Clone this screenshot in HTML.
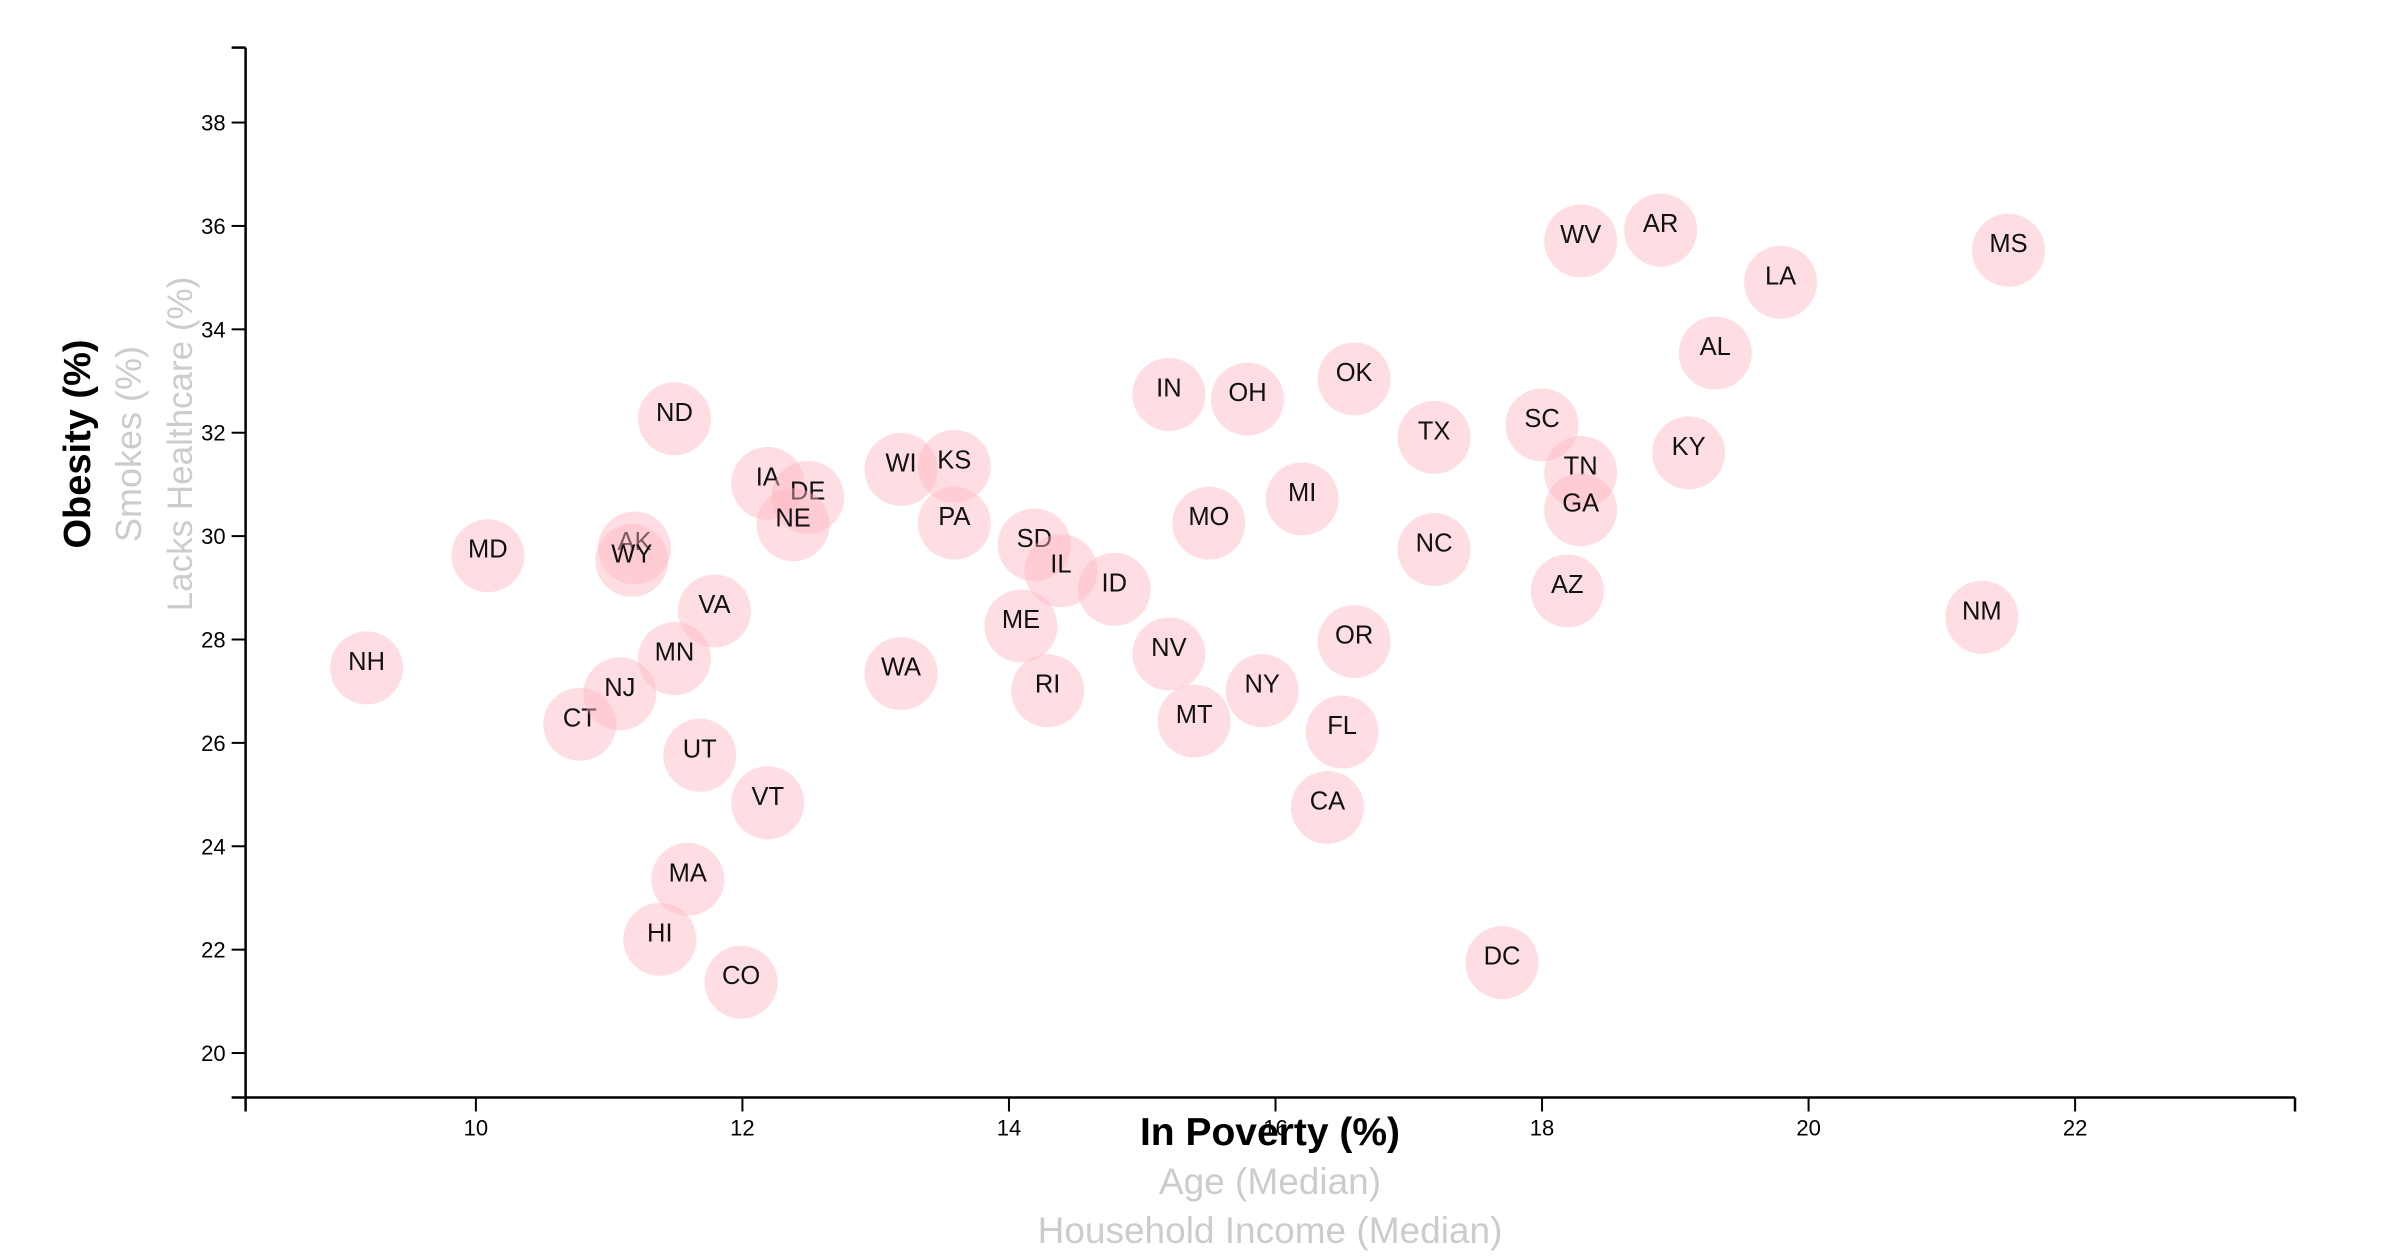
<!DOCTYPE html>
<html><head><meta charset="utf-8"><style>
html,body{margin:0;padding:0;background:#fff;}
svg{display:block;font-family:"Liberation Sans",sans-serif;}
</style></head><body>
<svg id="chart" width="2407" height="1257" viewBox="0 0 2407 1257">
<g id="plot"></g>
<g id="xaxis"></g>
<g id="yaxis"></g>
<text transform="translate(90,444) rotate(-90)" text-anchor="middle" font-size="38" font-weight="bold" fill="#000">Obesity (%)</text>
<text transform="translate(141,444) rotate(-90)" text-anchor="middle" font-size="36" fill="#ccc">Smokes (%)</text>
<text transform="translate(192,444) rotate(-90)" text-anchor="middle" font-size="35" fill="#ccc">Lacks Healthcare (%)</text>
<text x="1270" y="1145" text-anchor="middle" font-size="39" font-weight="bold" fill="#000">In Poverty (%)</text>
<text x="1270" y="1194" text-anchor="middle" font-size="37" fill="#ccc">Age (Median)</text>
<text x="1270" y="1243" text-anchor="middle" font-size="37" fill="#ccc">Household Income (Median)</text>
</svg>
<script>
const states=["NH","MD","AK","WY","CT","NJ","MN","VA","UT","VT","MA","HI","CO","ND","IA","DE","NE","WI","KS","PA","WA","SD","IL","ME","RI","ID","IN","OH","MO","NV","MT","NY","MI","OK","OR","FL","CA","TX","NC","SC","TN","GA","AZ","WV","AR","LA","AL","KY","MS","NM","DC"];
const poverty=[9.18,10.09,11.19,11.17,10.78,11.08,11.49,11.79,11.68,12.19,11.59,11.38,11.99,11.49,12.19,12.49,12.38,13.19,13.59,13.59,13.19,14.19,14.39,14.09,14.29,14.79,15.2,15.79,15.5,15.2,15.39,15.9,16.2,16.59,16.59,16.5,16.39,17.19,17.19,18.0,18.29,18.29,18.19,18.29,18.89,19.79,19.3,19.1,21.5,21.3,17.7];
const obesity=[27.45,29.62,29.77,29.53,26.36,26.95,27.63,28.55,25.76,24.84,23.36,22.2,21.37,32.27,31.02,30.75,30.22,31.29,31.35,30.25,27.34,29.83,29.33,28.26,27.01,28.97,32.74,32.65,30.25,27.72,26.42,27.01,30.72,33.04,27.96,26.21,24.75,31.91,29.74,32.15,31.23,30.51,28.94,35.71,35.92,34.91,33.54,31.61,35.53,28.43,21.75];
const xTicks=[10,12,14,16,18,20,22];
const yTicks=[20,22,24,26,28,30,32,34,36,38];
const X0=245.6,X1=2295,Y0=1097.5,Y1=47.6;
const xMin=8.272,xMax=23.65,yMin=19.14,yMax=39.45;
const xs=v=>X0+(v-xMin)/(xMax-xMin)*(X1-X0);
const ys=v=>Y0-(v-yMin)/(yMax-yMin)*(Y0-Y1);
const NS="http://www.w3.org/2000/svg";
function mk(t,a,p){const e=document.createElementNS(NS,t);for(const k in a)e.setAttribute(k,a[k]);p.appendChild(e);return e;}
const plot=document.getElementById('plot');
states.forEach((s,i)=>{
  const c=mk('circle',{cx:xs(poverty[i]),cy:ys(obesity[i]),r:36.5,fill:'rgb(255,182,193)','fill-opacity':0.45},plot);
  
  
  const t=mk('text',{x:xs(poverty[i]),y:ys(obesity[i])+2,'text-anchor':'middle','font-size':25.5,fill:'#111'},plot);
  t.textContent=s;
  
  
});
const xa=document.getElementById('xaxis');
const xl=mk('line',{x1:X0,y1:Y0,x2:X1,y2:Y0,stroke:'#000','stroke-width':2.5},xa);


[X0,X1].forEach(x=>mk('line',{x1:x,y1:Y0,x2:x,y2:Y0+14,stroke:'#000','stroke-width':2.5},xa));
xTicks.forEach(v=>{
  mk('line',{x1:xs(v),y1:Y0,x2:xs(v),y2:Y0+14,stroke:'#000','stroke-width':2},xa);
  const t=mk('text',{x:xs(v),y:Y0+38,'text-anchor':'middle','font-size':22,fill:'#000'},xa);
  t.textContent=v;
  
  
});
const ya=document.getElementById('yaxis');
const yl=mk('line',{x1:X0,y1:Y1,x2:X0,y2:Y0,stroke:'#000','stroke-width':2.5},ya);


[Y1,Y0].forEach(y=>mk('line',{x1:X0-14,y1:y,x2:X0,y2:y,stroke:'#000','stroke-width':2.5},ya));
yTicks.forEach(v=>{
  mk('line',{x1:X0-14,y1:ys(v),x2:X0,y2:ys(v),stroke:'#000','stroke-width':2},ya);
  const t=mk('text',{x:X0-20,y:ys(v)+8,'text-anchor':'end','font-size':22,fill:'#000'},ya);
  t.textContent=v;
  
  
});
</script>
</body></html>
